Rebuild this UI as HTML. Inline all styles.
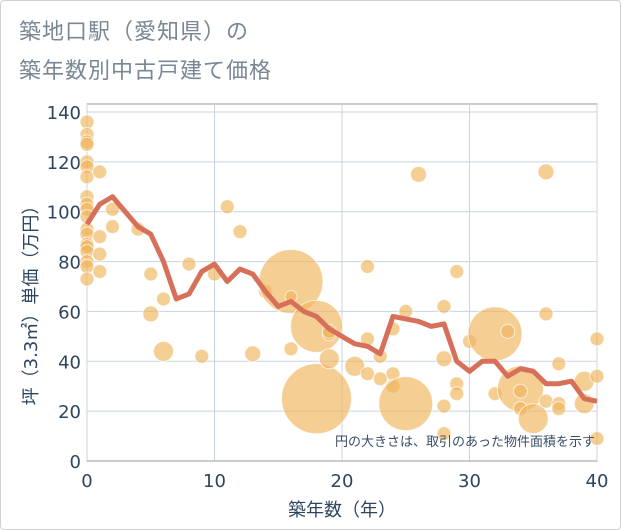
<!DOCTYPE html>
<html><head><meta charset="utf-8"><style>
body{margin:0;background:#fff;font-family:"DejaVu Sans","Noto Sans CJK JP",sans-serif;}
#wrap{position:relative;width:619px;height:528px;border:1px solid #d0d0d0;border-radius:4px;overflow:hidden;}
.t{position:absolute;left:18px;font-size:22px;color:#7a8794;letter-spacing:1px;}
text{font-family:"DejaVu Sans","Noto Sans CJK JP",sans-serif;}
</style></head><body>
<div id="wrap">
<div class="t" style="top:13px">築地口駅（愛知県）の</div>
<div class="t" style="top:52px">築年数別中古戸建て価格</div>
<svg id="c" width="619" height="528" style="position:absolute;left:0;top:0"></svg>
</div>
<script>
const yearsLine=[0,1,2,3,4,5,6,7,8,9,10,11,12,13,14,15,16,17,18,19,20,21,22,23,24,25,26,27,28,29,30,31,32,33,34,35,36,37,38,39,40];
const priceLine=[95,103,106,100,94,91,80,65,67,76,79,72,77,75,68,62,64,60,58,53,50,47,46,43,58,57,56,54,55,40,36,40,40,34,37,36,31,31,32,25,24];
const bubbleX=[0,0,0,0,0,0,0,0,0,0,0,0,0,0,0,0,0,0,0,1,1,1,1,2,2,4,5,5,6,6,8,9,10,11,12,13,14,16,16,16,18,18,19,19,19,21,22,22,22,23,23,24,24,24,25,25,26,28,28,28,28,29,29,29,30,32,32,33,34,34,34,35,36,36,36,37,37,37,39,39,40,40,40];
const bubbleY=[136,131,128,127,120,118,114,106,103,101,98,93,91,87,86,84,80,78,73,116,90,83,76,101,94,93,75,59,65,44,79,42,75,102,92,43,68,72,66,45,54,25,51,41,52,38,78,49,35,42,33,53,35,30,60,23,115,62,41,22,11,76,31,27,48,51,27,52,29,28,21,17,116,59,24,39,23,21,23,32,49,34,9];
const bubbleR=[7,7,7,7,7,7,7,7,7,7,7,7,7,7,7,7,7,7,7,7,7,7,7,7,7,7,7,8,7,10,7,7,7,7,7,8,7,32,6,7,26,35,7,10,7,10,7,7,7,7,7,7,7,7,7,27,8,7,8,7,7,7,7,7,7,27,7,7,23,7,7,15,8,7,7,7,7,7,10,10,7,7,7];
const xTicks=[0,10,20,30,40];
const yTicks=[0,20,40,60,80,100,120,140];
const L=86,R=596,T=103,B=460;
const sx=v=>L+(v/40)*(R-L);
const sy=v=>B-v*(B-111)/140;
const ns="http://www.w3.org/2000/svg";
const svg=document.getElementById('c');
function mk(tag,attrs){const e=document.createElementNS(ns,tag);for(const k in attrs)e.setAttribute(k,attrs[k]);svg.appendChild(e);return e;}
let e;
e=mk('rect',{x:L,y:T,width:R-L,height:B-T,fill:'#fff',stroke:'#999','stroke-width':1});


yTicks.forEach(v=>{
 e=mk('line',{x1:L,x2:R,y1:sy(v),y2:sy(v),stroke:'#c8d4e2','stroke-width':1});
 
 
 e=mk('text',{x:L-6,y:sy(v)+7,'text-anchor':'end','font-size':18,fill:'#2e4560'});e.textContent=v;
 
 
});
xTicks.forEach(v=>{
 e=mk('line',{x1:sx(v),x2:sx(v),y1:T,y2:B,stroke:'#c8d4e2','stroke-width':1});
 
 
 e=mk('text',{x:sx(v),y:B+26,'text-anchor':'middle','font-size':18,fill:'#2e4560'});e.textContent=v;
 
 
});
mk('line',{x1:L,x2:R,y1:B,y2:B,stroke:'#999'});
for(let i=0;i<bubbleX.length;i++){
 e=mk('circle',{cx:sx(bubbleX[i]),cy:sy(bubbleY[i]),r:bubbleR[i],fill:'rgba(240,180,90,0.65)',stroke:'rgba(255,255,255,0.7)','stroke-width':1});
 
 
}
e=mk('polyline',{points:yearsLine.map((x,i)=>sx(x)+','+sy(priceLine[i])).join(' '),fill:'none',stroke:'#d6705a','stroke-width':5,'stroke-linejoin':'round'});


e=mk('text',{x:R-2,y:445,'text-anchor':'end','font-size':13,fill:'#3a4e66'});e.textContent='円の大きさは、取引のあった物件面積を示す';


e=mk('text',{x:(L+R)/2,y:515,'text-anchor':'middle','font-size':18,fill:'#2e4560'});e.textContent='築年数（年）';


e=mk('text',{x:0,y:0,'text-anchor':'middle','font-size':18,fill:'#2e4560',transform:'translate(36,300) rotate(-90)'});e.textContent='坪（3.3㎡）単価（万円）';


</script>
</body></html>
